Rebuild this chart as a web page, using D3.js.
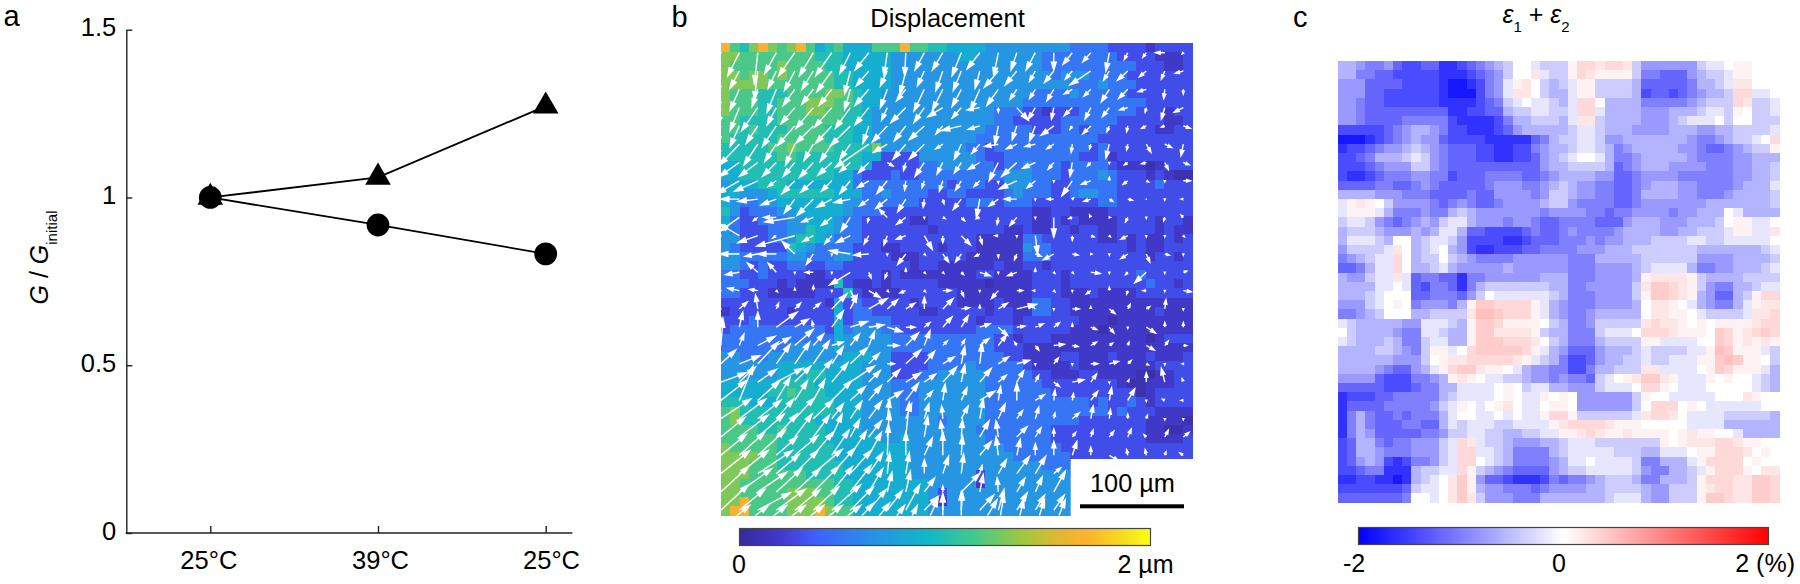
<!DOCTYPE html>
<html lang="en">
<head>
    <meta charset="UTF-8">
    <title>Displacement and strain</title>
    <script src="https://d3js.org/d3.v7.min.js"></script>
    <style>
        body { margin: 0; background: #fff; }
        text { font-family: "Liberation Sans", Arial, sans-serif; fill: #000; }
        .domain, .tick line { stroke: #222; stroke-width: 1.4px; }
    </style>
</head>
<body>
    <script>
        // Panel a: conductance ratio at each temperature step
        const tempLabels = ["25°C", "39°C", "25°C"];
        const yTicks = [0, 0.5, 1, 1.5];
        const triangleValues = [1, 1.06, 1.272];
        const circleValues = [1, 0.918, 0.832];

        // Panel b: displacement map, one digit per cell, see dispLevels (um)
        const dispLevels = [0.08, 0.18, 0.3, 0.5, 0.68, 0.85, 1, 1.15, 1.3, 1.65];
        const dispRows = [
            "9768987897 5675557779 7766555544 4444444333 3222212222",
            "8877777777 6665555544 4444455444 4444333333 3322221112",
            "8777778777 7665555544 4444444444 4444333333 3333222112",
            "8878878777 7766555544 4444444444 4444434443 3332222222",
            "8888877777 7766555544 4444444444 4444444333 4333222222",
            "8777666777 7887655444 4444444444 4443333433 3332222222",
            "8777667778 8877655444 4444444444 4433333333 3333322222",
            "8777667778 8776654444 4444444443 3322122233 3333222122",
            "7766667777 7776654444 4444444443 3222223333 3322222112",
            "7767666777 7666554444 4444444433 3332223323 3222221122",
            "7666667777 7666554444 4444444333 3333333333 2222222222",
            "6666677877 7766668444 4444443323 3333333332 3222222222",
            "6666667766 6666655222 2444444322 3333333322 3122222222",
            "5566666666 6666652222 2334444332 3343332333 3211101222",
            "5566666666 6655322232 2333333333 4443332333 4322212100",
            "4555666555 5555333333 3333233322 4443322333 3322223222",
            "5544456666 6655533433 3322332222 3433322344 3322222222",
            "5433445555 5554433333 3222223332 3332222222 3322222222",
            "6423334455 5554333222 2222222222 2221122111 1222222222",
            "5322333445 5543322222 1122222222 2221121211 1122221221",
            "4322233446 5543322222 2212222222 1121122122 1122221211",
            "4422233466 5433322222 2222222111 1133222222 1121211212",
            "4322222654 3333222112 2221222111 1143322222 2221211222",
            "4433333443 3344222211 1222221111 1133322222 2222212212",
            "4432322332 2332222222 1221111112 1122122222 2222222222",
            "3322322221 1222222121 1111111221 1112221222 2222322222",
            "3332221211 1162112122 2221111101 1112221222 2222232212",
            "3322211111 2226211112 2222211111 1112221112 1111222222",
            "2222222222 2142322222 1222211112 1113322111 1111111111",
            "1222222122 2252332222 2112222212 2113322111 1111112111",
            "2223222222 2252333322 2222222122 2122222211 1011111111",
            "2333333333 3253444332 2222222333 3222222111 0111111111",
            "3333333333 3354444433 3333333332 2122211111 1111101222",
            "3333333444 4454444433 3333333332 2211111111 1111111111",
            "4433344444 4445554422 2233333333 2211112211 1211121112",
            "4444445555 5555544422 2233334333 3321111211 1111112222",
            "4444445556 6555544422 2334444433 3332211122 1111001122",
            "5555556666 5555544433 3444444433 3333222222 2210011122",
            "5555566766 6555544433 3444444433 3333322222 2222012222",
            "6665556666 6655544443 3444444433 3333333332 3223212222",
            "7866666666 6655544443 3444444433 3333333333 3232221111",
            "7866666666 5555544444 4443444433 3333333322 2222211110",
            "7777667666 6555544444 4444444333 3333322222 2222211001",
            "7777776666 6555555445 4444444433 3333322222 2222211112",
            "8777776666 6655555555 4444444444 3333332222 2222222222",
            "8888776666 6655555555 4444444444 4333333222 2222222222",
            "8887776666 6665555555 4444444444 4444333333 3333333333",
            "8887777776 6665555555 4444444244 4444444333 3333333333",
            "8877777777 7766555555 5544444144 4444444433 3333333333",
            "8877777888 7766555555 5542444444 4444444433 3333333333",
            "8897777888 8766555555 5541444444 4444444443 3333333333",
            "8997777888 9877555555 5544444444 4444444443 3333333333"
        ];

        // Panel b: arrow components on the coarse grid, in steps of 0.05 um
        const arrowU = [
            [0,-10,-3,-10,-14,-12,-14,-9,-12,-3,-1,-8,-9,-8,-11,-4,-5,-8,0,-8,-7,-3,-3,-3,-8,-1],
            [-3,-8,-3,-7,-9,-10,-13,-5,-11,-6,-5,-6,-6,-7,-4,-12,-10,-5,-8,-6,-18,-5,-9,-6,-3,-7],
            [-3,-8,-5,-8,-10,-10,-11,-5,-12,-6,-8,-9,-9,-8,-8,-10,-6,-5,-6,-7,-6,-7,-8,-7,-1,0],
            [-2,-8,-14,-8,-12,-15,-15,-13,-12,-5,-13,-9,-13,-8,-11,0,10,-6,-2,-7,-5,-6,-7,-1,-3,-8],
            [-3,-8,-10,-12,-15,-15,-14,-17,-5,-13,-10,-13,-6,-17,-10,-3,-4,-5,-11,-2,-7,-2,-1,-4,-3,6],
            [-3,-17,-12,-10,-8,-8,-10,-9,-29,-12,-11,-13,-6,-6,-7,-12,-9,-9,-6,-1,-1,-3,-1,4,6,-2],
            [-5,-17,-16,-12,-10,-12,-12,-9,-9,5,-2,-8,-5,-6,-10,-8,-13,-11,-5,-2,-3,0,-3,-4,3,5],
            [-2,-19,-20,-7,-11,-11,-9,-9,-10,-9,-1,-2,-3,-5,-5,0,-15,-7,0,-9,-8,0,-4,2,0,6],
            [-4,-16,-17,-13,-9,-14,-13,-14,-8,-10,-7,-1,1,-7,-3,-8,-11,0,-6,1,-6,3,4,0,0,-2],
            [-5,-17,-4,-11,-26,-10,-9,-8,-1,-7,-8,0,2,3,-3,-1,-6,0,0,-3,-1,1,-2,0,-1,-2],
            [0,-17,-17,-3,-33,-9,-6,-12,-4,-3,-8,7,0,8,2,-3,0,2,0,0,3,1,-6,0,0,1],
            [0,-17,-11,-16,-11,-6,0,-18,-13,0,-7,1,5,-5,-4,0,-2,5,-9,5,1,0,-6,3,4,0],
            [-4,-12,-9,-7,0,-7,0,-18,2,-2,0,1,1,2,9,0,-8,0,1,1,8,0,-2,-10,0,3],
            [0,-10,-7,1,0,0,0,5,10,1,-5,1,7,2,0,-6,5,-2,1,0,-4,0,-1,-3,0,7],
            [0,7,-2,2,5,6,13,6,16,9,8,0,9,7,0,8,17,-4,0,6,0,5,2,3,1,0],
            [1,3,0,18,12,-1,10,15,13,13,8,5,8,6,9,8,7,7,5,0,5,4,0,8,0,0],
            [2,4,15,12,16,9,10,8,5,10,11,5,4,3,8,7,-2,3,9,5,5,3,1,7,3,3],
            [13,18,18,12,13,14,10,15,9,6,13,9,10,3,2,9,11,0,4,0,6,8,3,2,0,-1],
            [22,14,16,23,14,16,14,21,10,11,13,10,12,3,10,7,6,3,5,10,5,0,1,0,-3,-1],
            [22,12,19,12,11,10,17,13,11,13,11,7,2,5,13,2,0,8,1,1,6,2,6,0,-2,-2],
            [26,23,20,15,17,17,10,10,11,2,5,4,-1,6,3,6,5,3,1,6,2,1,0,1,0,0],
            [21,25,23,18,15,14,9,8,11,2,3,3,-2,1,8,-2,9,5,0,3,2,4,3,-2,3,5],
            [22,22,24,18,20,17,15,14,11,1,0,7,0,1,10,-2,3,0,0,4,0,8,-1,-1,1,-3],
            [25,25,30,20,20,25,20,18,12,2,3,0,5,2,2,7,11,9,6,0,0,0,0,0,0,0],
            [24,28,25,22,22,22,18,18,12,4,4,9,0,16,3,-1,7,6,10,0,0,0,0,0,0,0],
            [24,22,28,25,22,22,25,20,15,13,12,12,0,1,12,5,9,8,9,0,0,0,0,0,0,0],
            [25,25,25,25,25,25,25,20,18,15,10,12,0,0,15,5,6,8,10,0,0,0,0,0,0,0]
        ];
        const arrowV = [
            [0,20,27,18,20,20,20,18,15,20,20,15,15,20,14,20,15,15,15,10,8,16,6,4,0,1],
            [20,15,25,15,17,16,18,20,13,13,20,13,17,17,15,14,12,9,10,7,12,8,8,5,7,2],
            [18,18,15,20,14,13,14,18,14,16,10,19,18,15,18,14,9,8,10,4,6,11,8,2,8,4],
            [15,20,20,15,14,18,17,18,15,11,13,13,8,9,2,4,11,10,10,7,10,8,2,4,10,4],
            [16,18,15,18,17,15,15,17,15,14,13,12,7,4,3,16,12,13,8,3,7,5,5,2,1,2],
            [10,18,18,15,18,14,15,13,20,7,13,13,4,13,8,2,4,2,4,7,4,12,5,7,3,10],
            [8,12,12,12,12,13,11,8,9,3,7,12,10,9,6,16,12,5,6,12,3,1,2,1,6,2],
            [0,11,9,5,11,10,9,11,6,11,8,6,9,8,5,2,7,6,1,13,3,-3,3,1,1,0],
            [0,0,2,5,12,14,7,3,6,8,11,7,4,9,16,6,0,1,0,-1,2,2,1,0,1,0],
            [5,12,3,0,4,4,7,12,4,-7,6,1,1,3,1,6,7,1,17,1,-2,0,4,1,3,-2],
            [0,-10,6,2,9,5,7,6,7,8,3,12,6,8,7,0,1,16,-1,4,1,1,3,1,1,1],
            [0,0,2,0,-11,9,1,-3,1,1,9,1,7,7,2,3,5,2,5,1,0,1,4,7,1,1],
            [17,2,-8,-8,1,0,1,11,5,5,-3,1,1,2,3,1,3,-3,1,1,1,1,2,9,1,-1],
            [0,-2,-1,1,-2,-4,1,9,6,1,2,1,0,5,1,7,0,0,1,1,3,-3,3,0,1,1],
            [0,-6,-12,-5,-5,-5,-13,-12,-9,-8,-5,-10,-9,-1,-3,-5,-4,-4,1,0,-2,4,-4,-2,-8,1],
            [-8,-13,-13,-13,-7,-5,-14,-5,-2,4,0,-4,-9,-10,-3,7,-1,-3,-4,-3,2,5,1,5,-4,-4],
            [-23,-10,-8,-7,-14,-10,-3,-10,-12,0,-11,-13,-4,-5,-6,-9,-3,4,-1,1,-3,-2,-3,4,-4,0],
            [-12,-7,-19,-17,-19,-20,-15,-14,-9,0,-12,-11,-6,-15,-18,-6,-3,1,-5,1,0,-2,-3,1,1,0],
            [-8,-13,-11,-12,-14,-19,-17,-14,-10,-11,-8,-7,-13,-15,-12,-6,-10,-6,4,-2,-7,1,-2,-8,-12,-3],
            [-17,-30,-17,-20,-17,-18,-17,-12,-13,-8,-15,-8,-14,-11,-8,-12,-15,-5,-9,-6,-8,-11,-10,1,-1,0],
            [-17,-17,-16,-17,-18,-16,-13,-15,-15,-17,-13,-13,-11,-11,-17,-13,-7,-10,-5,-5,-11,-8,-4,-3,1,1],
            [-17,-19,-20,-20,-20,-19,-20,-15,-14,-22,-30,-18,-14,-15,-14,-14,-9,-8,-7,-4,-6,-5,-7,-2,-6,-4],
            [-18,-20,-22,-16,-17,-20,-22,-21,-20,-27,-20,-15,-20,-17,-12,-16,-14,-10,-12,-12,-7,5,-5,-5,-3,-2],
            [-20,-20,-20,-17,-20,-21,-22,-20,-18,-18,-18,-12,-15,-17,-7,-12,-15,-15,-5,0,0,0,0,0,0,0],
            [-22,-20,-17,-20,-20,-22,-22,-23,-20,-17,-18,-12,-5,-16,-15,-12,-12,-13,-18,0,0,0,0,0,0,0],
            [-22,-18,-15,-18,-18,-20,-22,-20,-18,-17,-22,-12,-14,-16,-13,-18,-15,-13,-13,0,0,0,0,0,0,0],
            [-20,-20,-20,-20,-20,-20,-20,-22,-22,-20,-20,-26,-30,-32,-25,-30,-25,-25,-25,0,0,0,0,0,0,0]
        ];

        // Panel c: strain map, digit n = -0.2n %, letters a-e = +0.1 to +0.5 %
        const strainRows = [
            "334554677668 876543200122 2accbccb2444 4442110aa000",
            "335566777778 887654200b12 2acbaaaa2556 6643221aa000",
            "444666677778 9987541ab023 21aa22223666 6653321bb000",
            "444667777778 9997541bb023 31aa22223766 7654332cc110",
            "445667777778 888765210112 31cc03333555 5543222cb221",
            "445666666666 887766322112 21cc13333444 3332112a0221",
            "445666655555 788887533222 31bb23333444 321110200222",
            "777776543345 778887643333 321123334444 333443322221",
            "999876543446 777788888653 221124433333 33455432210c",
            "877654432345 666778877543 321123543333 34456654322a",
            "776533321245 666778877643 210013554333 334555544333",
            "777654442245 666666666643 322223654333 444455544332",
            "788765554455 766655556654 333344665444 455555544332",
            "666655665456 666654445543 234455665433 344555543331",
            "333344455566 665664444542 234455665333 344555433332",
            "1aba02444456 545665444432 245555665444 444433333332",
            "1aaa13555455 323444444454 444556554444 544333013333",
            "211245654342 113444544566 555566643334 4433320aa110",
            "322234443431 136677776566 545555433334 4332221aa11b",
            "311123003211 247777887666 555454433322 221122111110",
            "422221b03210 347887776655 554443332222 222333333321",
            "543211c03220 234555544444 455533333222 222444433332",
            "665311c03321 344444344444 455544443211 113554433321",
            "344211b16556 685544444433 355544443abb bba233332222",
            "333311016755 685322222223 355444442bdd cba245533211",
            "333210006655 564201111112 355544442add cba346632acc",
            "444210a05444 53addcccca13 4555444430bb a01345531abb",
            "554320003322 22beedccca13 4554333330bb aa0122221bbc",
            "123333344111 23addcaaaa02 355422222bcb ba0a0aaaabcc",
            "023333455112 33addbbbba23 355521110ccc baaa0dcabcdc",
            "123332355211 33adddcccb02 355532222aa1 11100dcababa",
            "3333223452aa 10cdddddca13 466643332122 2211aedaaa12",
            "33333344420a bbcccccba123 577643322122 111aadedaa02",
            "33334566431a cddbaa013445 577533222bb1 1110adcaaa13",
            "444467775543 aba011223445 4556210abddb a111a0a00123",
            "666667776553 311110a02113 344421110cca 011100000123",
            "877766555553 211110a011a0 a04444442a00 11111000ba00",
            "866665555542 1a010ab0110a a044444420cc c0a011111100",
            "853566565553 1001101011ac ca2222221bcc b01111222223",
            "853566655663 12111221111a bccccbaaa000 001111333333",
            "853466666554 221122332211 aabcbaabaaaa 0abaa0013333",
            "763356554442 1cb122344433 21112222222a 0abbbccbaa00",
            "763345554442 1cc112355553 211111222331 110aacccb0a0",
            "764347875542 1cc012355554 311011112553 331acccc0a00",
            "776558883221 1ca234566664 322111112455 3321accca0bb",
            "887788983210 bda466788875 655432223553 332acccbbddc",
            "777777762110 bda344555654 444332222344 222abccbbddc",
            "666666650010 bdb244455533 333332111344 222addcbbddc"
        ];

        const width = 1800;
        const height = 584;

        const svg = d3.select("body").append("svg")
            .attr("width", width)
            .attr("height", height)
            .style("display", "block");
        const defs = svg.append("defs");

        // the heatmaps in the figure are slightly soft
        defs.append("filter").attr("id", "soft")
            .append("feGaussianBlur").attr("stdDeviation", 0.5);

        function panelLetter(label, x, y) {
            svg.append("text").attr("x", x).attr("y", y)
                .attr("font-size", 29).text(label);
        }
        panelLetter("a", 3.5, 25.5);
        panelLetter("b", 671.5, 26.5);
        panelLetter("c", 1293, 26.5);

        // ---- panel a ----
        const xA = d3.scalePoint().domain(d3.range(tempLabels.length)).range([210.3, 545.7]);
        const yA = d3.scaleLinear().domain([0, 1.5]).range([533, 29.7]);

        const yAxis = svg.append("g").attr("transform", "translate(126.3,0)")
            .call(d3.axisLeft(yA).tickValues(yTicks).tickFormat(d => d)
                .tickSize(-6).tickPadding(10).tickSizeOuter(0));
        yAxis.selectAll("text").attr("font-size", 25.5).attr("dy", "0.245em");

        // bottom axis runs a little past the last tick
        svg.append("line").attr("x1", 125.6).attr("x2", 572.3).attr("y1", 533).attr("y2", 533)
            .attr("stroke", "#222").attr("stroke-width", 1.4);
        const xAxis = svg.append("g").attr("transform", "translate(0,533)")
            .call(d3.axisBottom(xA).tickFormat(i => tempLabels[i]).tickSize(-7).tickPadding(18.3).tickSizeOuter(0));
        xAxis.select(".domain").remove();
        xAxis.selectAll("text").attr("font-size", 25.5)
            .attr("dx", (d, i) => [-2, 2, 5.3][i]);

        const lineA = d3.line().x((d, i) => xA(i)).y(d => yA(d));
        [triangleValues, circleValues].forEach(vals => {
            svg.append("path").attr("d", lineA(vals))
                .attr("fill", "none").attr("stroke", "#000").attr("stroke-width", 1.8);
        });
        svg.selectAll(".tri").data(triangleValues).enter().append("path")
            .attr("d", d3.symbol(d3.symbolTriangle, 285))
            .attr("transform", (d, i) => `translate(${xA(i)},${yA(d)})`);
        svg.selectAll(".dot").data(circleValues).enter().append("circle")
            .attr("cx", (d, i) => xA(i)).attr("cy", d => yA(d)).attr("r", 11.4);

        const yLabel = svg.append("text")
            .attr("transform", "translate(48.3,257.5) rotate(-90)")
            .attr("text-anchor", "middle").attr("font-size", 25);
        yLabel.append("tspan").attr("font-style", "italic").text("G");
        yLabel.append("tspan").text(" / ");
        yLabel.append("tspan").attr("font-style", "italic").text("G");
        yLabel.append("tspan").attr("font-size", 15).attr("dy", 9).text("initial");

        // ---- panel b ----
        const dispColor = d3.scaleLinear()
            .domain([0, 0.2, 0.38, 0.63, 0.92, 1.13, 1.38, 1.55, 1.69, 1.88, 2])
            .range(["#382a9a", "#4238cc", "#4060ff", "#2a8ee8", "#10b8c8", "#40c890",
                    "#a0c840", "#e0b830", "#ffb030", "#f5e020", "#ffff10"])
            .clamp(true);

        const dispCells = dispRows.map(r => r.replace(/ /g, "").split("").map(c => dispLevels[+c]));
        const xB = d3.scaleLinear().domain([0, dispCells[0].length]).range([720.7, 1192.7]);
        const yB = d3.scaleLinear().domain([0, dispCells.length]).range([43.3, 515.5]);

        const gB = svg.append("g").attr("shape-rendering", "crispEdges").attr("filter", "url(#soft)");
        dispCells.forEach((row, r) => {
            gB.selectAll(null).data(row).enter().append("rect")
                .attr("x", (d, c) => xB(c))
                .attr("y", yB(r))
                .attr("width", xB(1) - xB(0) + 0.5)
                .attr("height", yB(1) - yB(0) + 0.5)
                .attr("fill", d => dispColor(d));
        });

        svg.append("clipPath").attr("id", "clipB").append("rect")
            .attr("x", xB(0)).attr("y", yB(0))
            .attr("width", xB.range()[1] - xB(0)).attr("height", yB.range()[1] - yB(0));

        const colNode = d3.scaleLinear().domain([0, 25]).range([720.8, 1183.3]);
        const rowNode = d3.scaleLinear().domain([0, 26]).range([52.7, 528.5]);
        const arrowLen = d3.scaleLinear().domain([0, 1]).range([0, 1.15]);

        const arrows = [];
        arrowU.forEach((row, r) => row.forEach((u, c) => {
            arrows.push({ r, c, u, v: arrowV[r][c] });
        }));

        function arrowPath(d) {
            const x0 = colNode(d.c), y0 = rowNode(d.r);
            const dx = arrowLen(d.u), dy = arrowLen(d.v);
            const len = Math.hypot(dx, dy);
            if (len === 0) return `M${x0 - 0.8},${y0}h1.6`;
            const ux = dx / len, uy = dy / len;
            const hl = Math.min(8, 0.8 + len * 0.4), hw = Math.min(2.4, 0.4 + len * 0.12);
            const x1 = x0 + dx, y1 = y0 + dy;
            const bx = x1 - ux * hl, by = y1 - uy * hl;
            return `M${x0},${y0}L${bx},${by}` +
                `M${x1},${y1}L${bx - uy * hw},${by + ux * hw}L${bx + uy * hw},${by - ux * hw}Z`;
        }

        svg.append("g").attr("clip-path", "url(#clipB)")
            .selectAll("path").data(arrows).enter().append("path")
            .attr("d", arrowPath)
            .attr("fill", "#fff").attr("stroke", "#fff").attr("stroke-width", 1.4);

        // white patch holding the scale bar
        svg.append("rect").attr("x", 1070.7).attr("y", 459).attr("width", 125).attr("height", 60).attr("fill", "#fff");
        svg.append("text").attr("x", 1132.5).attr("y", 491.7).attr("text-anchor", "middle")
            .attr("font-size", 25.3).text("100 µm");
        svg.append("rect").attr("x", 1080).attr("y", 504.3).attr("width", 104).attr("height", 4).attr("fill", "#000");

        svg.append("text").attr("x", 947.5).attr("y", 27).attr("text-anchor", "middle")
            .attr("font-size", 25.5).text("Displacement");

        // ---- panel c ----
        const strainCode = ch => ch >= "0" && ch <= "9" ? -0.2 * +ch : 0.1 * ("abcde".indexOf(ch) + 1);
        const strainColor = d3.scaleLinear().domain([-2, 0, 2]).range(["#0000ff", "#ffffff", "#ff0000"]);

        const strainCells = strainRows.map(r => r.replace(/ /g, "").split("").map(strainCode));
        const xC = d3.scaleLinear().domain([0, strainCells[0].length]).range([1337.7, 1779.3]);
        const yC = d3.scaleLinear().domain([0, strainCells.length]).range([61, 502.7]);

        const gC = svg.append("g").attr("shape-rendering", "crispEdges").attr("filter", "url(#soft)");
        strainCells.forEach((row, r) => {
            gC.selectAll(null).data(row).enter().append("rect")
                .attr("x", (d, c) => xC(c))
                .attr("y", yC(r))
                .attr("width", xC(1) - xC(0) + 0.5)
                .attr("height", yC(1) - yC(0) + 0.5)
                .attr("fill", d => strainColor(d));
        });

        const title = svg.append("text").attr("x", 1536).attr("y", 22.7)
            .attr("text-anchor", "middle").attr("font-size", 25);
        title.append("tspan").attr("font-style", "italic").text("ε");
        title.append("tspan").attr("font-size", 15).attr("dy", 9).text("1");
        title.append("tspan").attr("dy", -9).text(" + ");
        title.append("tspan").attr("font-style", "italic").text("ε");
        title.append("tspan").attr("font-size", 15).attr("dy", 9).text("2");

        // ---- colour bars ----
        function colorBar(id, color, domain, x, y, w, h) {
            const grad = defs.append("linearGradient").attr("id", id);
            d3.range(0, 1.001, 0.02).forEach(t => {
                grad.append("stop").attr("offset", t)
                    .attr("stop-color", color(domain[0] + t * (domain[1] - domain[0])));
            });
            svg.append("rect").attr("x", x).attr("y", y).attr("width", w).attr("height", h)
                .attr("fill", `url(#${id})`).attr("stroke", "#444").attr("stroke-width", 1.2);
        }
        colorBar("barB", dispColor, [0, 2], 739.5, 528.5, 411, 17);
        colorBar("barC", strainColor, [-2, 2], 1358.5, 527.5, 410, 17);

        function barLabel(txt, x, anchor, y) {
            svg.append("text").attr("x", x).attr("y", y).attr("text-anchor", anchor)
                .attr("font-size", 25).text(txt);
        }
        barLabel("0", 739, "middle", 573.3);
        barLabel("2 µm", 1173.5, "end", 573.3);
        barLabel("-2", 1354, "middle", 571.7);
        barLabel("0", 1559, "middle", 571.7);
        barLabel("2 (%)", 1795, "end", 571.7);
    </script>
</body>
</html>
